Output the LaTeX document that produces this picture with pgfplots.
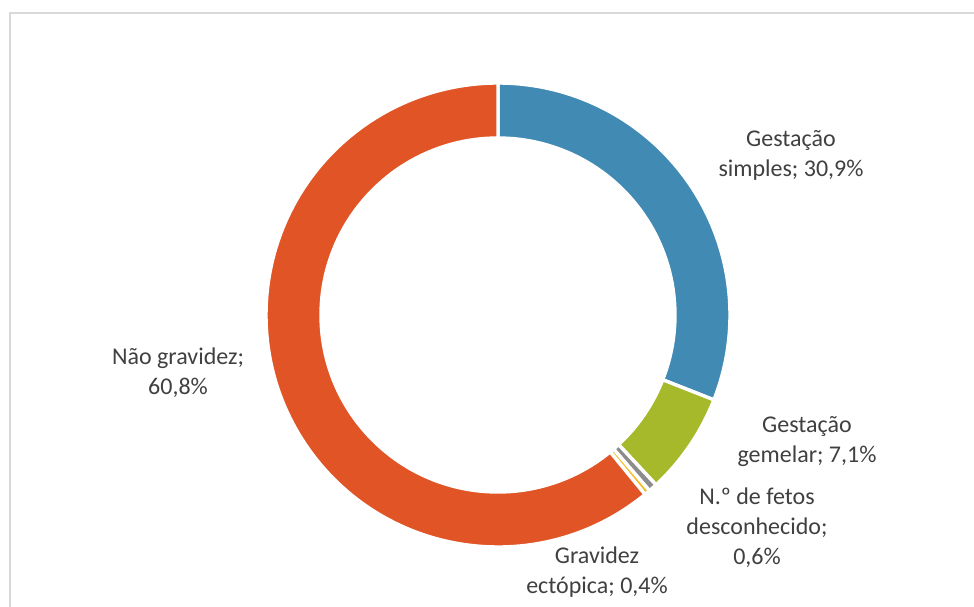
\documentclass[border=0pt]{standalone}
\usepackage{fontspec}
\setmainfont{Carlito}
\usepackage{pgfplots}
\pgfplotsset{compat=1.18}
\usepackage{pgfplotstable}
\definecolor{cBlue}{RGB}{65,138,180}
\definecolor{cGreen}{RGB}{166,185,43}
\definecolor{cGray}{RGB}{140,140,140}
\definecolor{cYellow}{RGB}{244,190,40}
\definecolor{cRed}{RGB}{225,84,38}
\definecolor{txt}{RGB}{64,64,64}
\definecolor{frame}{RGB}{217,217,217}

\pgfplotstableread{
value col
30.9 cBlue
7.1 cGreen
0.6 cGray
0.4 cYellow
60.8 cRed
}\slices

\begin{document}
\begin{tikzpicture}
\pgfplotstablegetrowsof{\slices}
\pgfmathtruncatemacro\nrows{\pgfplotsretval-1}
\begin{axis}[
  x=0.5pt, y=0.5pt,
  xmin=0, xmax=974, ymin=0, ymax=606,
  hide axis, clip=false,
]
% bounding box and frame
\path (axis cs:0,0) rectangle (axis cs:974,606);
\begin{scope}
\clip (axis cs:0,0) rectangle (axis cs:974,606);
\draw[frame, line width=1pt] (axis cs:10,-20) -- (axis cs:10,593) -- (axis cs:1000,593);
\end{scope}
% donut slices
\def\angstart{90}
\pgfplotsforeachungrouped \i in {0,...,\nrows}{%
  \pgfplotstablegetelem{\i}{value}\of\slices \let\v\pgfplotsretval
  \pgfplotstablegetelem{\i}{col}\of\slices \let\c\pgfplotsretval
  \pgfmathsetmacro\angend{\angstart-\v/99.8*360}
  \edef\cmd{\noexpand\fill[\c, draw=white, line width=1.7pt]
    (axis cs:{498+232*cos(\angstart)},{291+232*sin(\angstart)})
    arc[start angle=\angstart, end angle=\angend, radius=116pt]
    -- (axis cs:{498+177*cos(\angend)},{291+177*sin(\angend)})
    arc[start angle=\angend, end angle=\angstart, radius=88.5pt] -- cycle;}
  \cmd
  \let\angstart\angend
}
% labels
\begin{scope}[every node/.style={align=center, text=txt,
    font=\fontsize{12}{15}\selectfont}]
\node at (axis cs:791,451) {Gestação\\simples; 30,9\%};
\node at (axis cs:807,164) {Gestação\\gemelar; 7,1\%};
\node at (axis cs:757,78) {N.º de fetos\\desconhecido;\\0,6\%};
\node at (axis cs:597,34) {Gravidez\\ectópica; 0,4\%};
\node at (axis cs:178,233) {Não gravidez;\\60,8\%};
\end{scope}
\end{axis}
\end{tikzpicture}
\end{document}
